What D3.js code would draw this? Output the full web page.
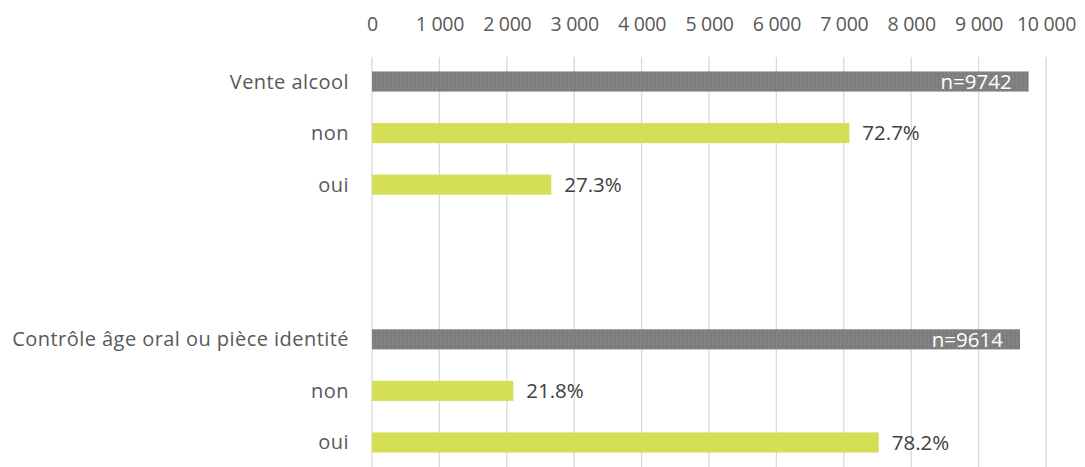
<!DOCTYPE html>
<html>
<head>
<meta charset="utf-8">
<title>vente alcool</title>
<script src="https://cdn.jsdelivr.net/npm/d3@7"></script>
<style>
	body{margin:0;background:#fff;}
	text{font-family:"Open Sans",sans-serif;}
</style>
</head>
<body>
<script>
// categories, top to bottom ("" = empty slot)
var categories=["Vente alcool","non","oui","","","Contrôle âge oral ou pièce identité","non","oui"];
var values=[9742,7082,2660,null,null,9614,2096,7518];
var labels=["n=9742","72.7%","27.3%","","","n=9614","21.8%","78.2%"];
var kinds=["total","part","part","","","total","part","part"];
var ticks=[0,1000,2000,3000,4000,5000,6000,7000,8000,9000,10000];

var width=1085,height=467;
var x0=372,x1=1046,yTop=56,yBottom=468;

var svg=d3.select("body").append("svg")
	.attr("width",width).attr("height",height);

// little texture for the grey bars
var defs=svg.append("defs");
var pat=defs.append("pattern").attr("id","grain")
	.attr("width",4).attr("height",4).attr("patternUnits","userSpaceOnUse");
pat.append("rect").attr("width",4).attr("height",4).attr("fill","#7f7f7f");
pat.append("rect").attr("x",0).attr("y",0).attr("width",1).attr("height",1).attr("fill","#8c8c8c");
pat.append("rect").attr("x",2).attr("y",1).attr("width",1).attr("height",1).attr("fill","#737373");
pat.append("rect").attr("x",1).attr("y",2).attr("width",1).attr("height",1).attr("fill","#8a8a8a");
pat.append("rect").attr("x",3).attr("y",3).attr("width",1).attr("height",1).attr("fill","#767676");

var x=d3.scaleLinear().domain([0,10000]).range([x0,x1]);
var y=d3.scaleBand().domain(d3.range(categories.length)).range([yTop,yBottom]).paddingInner(0.61).paddingOuter(0.3);

function fmt(d){ return d3.format(",")(d).replace(/,/g," "); }

// gridlines
svg.append("g").selectAll("line").data(ticks).enter().append("line")
	.attr("x1",function(d){return x(d);}).attr("x2",function(d){return x(d);})
	.attr("y1",57).attr("y2",height)
	.attr("stroke","#d9d9d9").attr("stroke-width",1.3);

// top axis
var axis=svg.append("g").attr("transform","translate(0,"+yTop+")")
	.call(d3.axisTop(x).tickValues(ticks).tickFormat(fmt).tickSize(0).tickPadding(25));
axis.select(".domain").remove();
axis.selectAll("text").attr("fill","#595959").style("font-size","19.5px").style("letter-spacing","-0.3px");

// bars
var idx=d3.range(categories.length).filter(function(i){return values[i]!=null;});
svg.append("g").selectAll("rect").data(idx).enter().append("rect")
	.attr("x",x(0)).attr("y",function(i){return y(i);})
	.attr("width",function(i){return x(values[i])-x(0);})
	.attr("height",y.bandwidth())
	.attr("fill",function(i){return kinds[i]=="total"?"url(#grain)":"#d4df55";});

// category labels
svg.append("g").selectAll("text").data(idx).enter().append("text")
	.attr("x",x(0)-23).attr("y",function(i){return y(i)+y.bandwidth()/2;})
	.attr("dy","0.35em").attr("text-anchor","end")
	.attr("fill","#595959").style("font-size","20px").style("letter-spacing","0.45px")
	.text(function(i){return categories[i];});

// value labels
svg.append("g").selectAll("text").data(idx).enter().append("text")
	.attr("x",function(i){return kinds[i]=="total"?x(values[i])-17:x(values[i])+13;})
	.attr("y",function(i){return y(i)+y.bandwidth()/2;})
	.attr("dy","0.35em")
	.attr("text-anchor",function(i){return kinds[i]=="total"?"end":"start";})
	.attr("fill",function(i){return kinds[i]=="total"?"#ffffff":"#404040";})
	.style("font-size","20.5px")
	.text(function(i){return labels[i];});
</script>
</body>
</html>
